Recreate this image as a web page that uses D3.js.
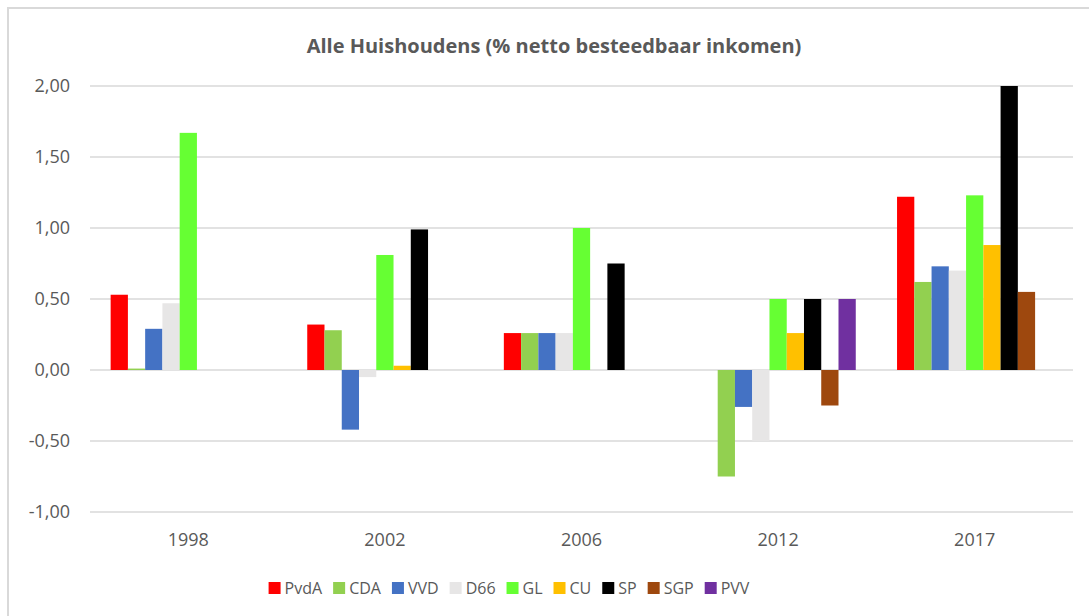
<!DOCTYPE html>
<html>
<head>
<meta charset="utf-8">
<script src="https://cdn.jsdelivr.net/npm/d3@7"></script>
<style>
  body { margin: 0; background: #fff; }
  svg { display: block; }
</style>
</head>
<body>
<div id="chart"></div>
<script>
// data (null = no bar)
const years = ['1998', '2002', '2006', '2012', '2017']
const parties = ['PvdA', 'CDA', 'VVD', 'D66', 'GL', 'CU', 'SP', 'SGP', 'PVV']

const PvdA = [0.53, 0.32, 0.26, null, 1.22]
const CDA = [0.01, 0.28, 0.26, -0.75, 0.62]
const VVD = [0.29, -0.42, 0.26, -0.26, 0.73]
const D66 = [0.47, -0.05, 0.26, -0.5, 0.7]
const GL = [1.67, 0.81, 1.0, 0.5, 1.23]
const CU = [null, 0.03, null, 0.26, 0.88]
const SP = [null, 0.99, 0.75, 0.5, 2.0]
const SGP = [null, null, null, -0.25, 0.55]
const PVV = [null, null, null, 0.5, null]

const yTicks = [-1, -0.5, 0, 0.5, 1, 1.5, 2]

const series = { PvdA, CDA, VVD, D66, GL, CU, SP, SGP, PVV }

const colors = {
  PvdA: '#FF0000',
  CDA: '#92D050',
  VVD: '#4472C4',
  D66: '#E7E6E6',
  GL: '#66FF33',
  CU: '#FFC000',
  SP: '#000000',
  SGP: '#9E480E',
  PVV: '#7030A0'
}

const width = 1089
const height = 616
const margin = { top: 86, right: 16, bottom: 104, left: 90 }
const font = "'Open Sans', 'Liberation Sans', sans-serif"
const textColor = '#595959'
const gridColor = '#D9D9D9'

const nl = d3.formatLocale({
  decimal: ',',
  thousands: '.',
  grouping: [3],
  currency: ['€', ''],
  minus: '-'
})

const svg = d3
  .select('#chart')
  .append('svg')
  .attr('width', width)
  .attr('height', height)

// chart frame (only top + left edge visible in the crop)
svg
  .append('rect')
  .attr('x', 8)
  .attr('y', 8)
  .attr('width', width + 20)
  .attr('height', height + 20)
  .attr('fill', 'none')
  .attr('stroke', gridColor)
  .attr('stroke-width', 2)

const x0 = d3
  .scaleBand()
  .domain(years)
  .range([margin.left, width - margin.right])
  .paddingInner(0.21)
  .paddingOuter(0.105)

const x1 = d3
  .scaleBand()
  .domain(parties)
  .range([0, x0.bandwidth()])
  .padding(0)

const y = d3
  .scaleLinear()
  .domain([-1, 2])
  .range([height - margin.bottom, margin.top])

// gridlines
svg
  .append('g')
  .selectAll('line')
  .data(yTicks)
  .join('line')
  .attr('x1', margin.left)
  .attr('x2', width - margin.right)
  .attr('y1', (d) => y(d))
  .attr('y2', (d) => y(d))
  .attr('stroke', gridColor)
  .attr('stroke-width', 1.5)

// y axis labels
svg
  .append('g')
  .attr('transform', `translate(${margin.left}, 0)`)
  .call(
    d3
      .axisLeft(y)
      .tickValues(yTicks)
      .tickSize(0)
      .tickPadding(20)
      .tickFormat(nl.format('.2f'))
  )
  .call((g) => g.select('.domain').remove())
  .call((g) =>
    g
      .selectAll('.tick>text')
      .style('font-family', font)
      .style('font-size', '18px')
      .attr('fill', textColor)
  )

// x axis labels
svg
  .append('g')
  .attr('transform', `translate(0, ${height - margin.bottom})`)
  .call(d3.axisBottom(x0).tickSize(0).tickPadding(21))
  .call((g) => g.select('.domain').remove())
  .call((g) =>
    g
      .selectAll('.tick>text')
      .style('font-family', font)
      .style('font-size', '18px')
      .attr('fill', textColor)
  )

// bars
const rows = []
years.forEach((yr, i) => {
  parties.forEach((p) => {
    const v = series[p][i]
    if (v !== null && v !== undefined) rows.push({ year: yr, party: p, value: v })
  })
})

svg
  .append('g')
  .selectAll('rect')
  .data(rows)
  .join('rect')
  .attr('x', (d) => x0(d.year) + x1(d.party))
  .attr('width', x1.bandwidth())
  .attr('y', (d) => Math.min(y(d.value), y(0)))
  .attr('height', (d) => Math.abs(y(d.value) - y(0)))
  .attr('fill', (d) => colors[d.party])

// title
svg
  .append('text')
  .attr('x', 554)
  .attr('y', 53)
  .attr('text-anchor', 'middle')
  .style('font-family', font)
  .style('font-size', '20px')
  .style('font-weight', 'bold')
  .attr('fill', textColor)
  .text('Alle Huishoudens (% netto besteedbaar inkomen)')

// legend
const legend = svg.append('g')
const items = legend
  .selectAll('g')
  .data(parties)
  .join('g')

items
  .append('rect')
  .attr('width', 12)
  .attr('height', 12)
  .attr('y', -12)
  .attr('fill', (d) => colors[d])

items
  .append('text')
  .attr('x', 16)
  .attr('y', 0)
  .style('font-family', font)
  .style('font-size', '16px')
  .attr('fill', textColor)
  .text((d) => d)

const gap = 11
let cursor = 0
items.each(function () {
  const w = 16 + d3.select(this).select('text').node().getComputedTextLength()
  d3.select(this).attr('transform', `translate(${cursor}, 0)`)
  cursor += w + gap
})
const legendWidth = cursor - gap
legend.attr('transform', `translate(${509 - legendWidth / 2}, 594)`)
</script>
</body>
</html>
